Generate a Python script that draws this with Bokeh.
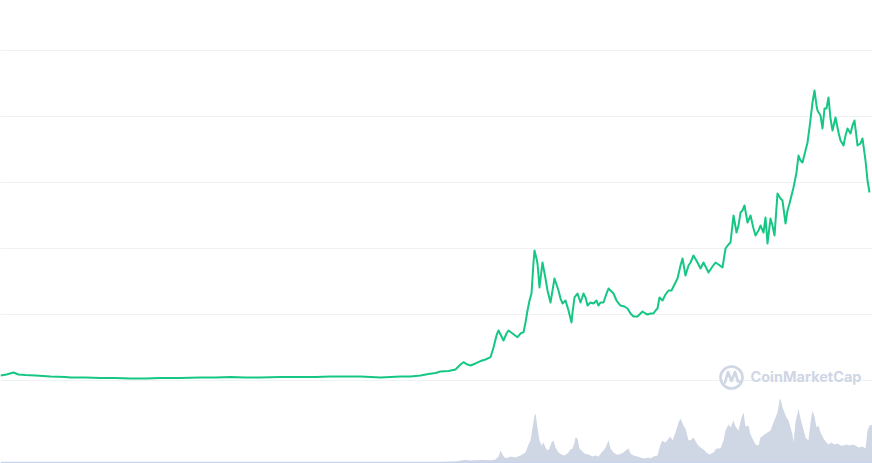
from bokeh.plotting import figure
from bokeh.models import Range1d, Label, Span, ColumnDataSource, Grid, FixedTicker
from bokeh.embed import file_html
from bokeh.resources import INLINE

# ---- price series (day index, price in thousands) ----
price_day = [0, 24, 52, 72, 100, 140, 200, 260, 280, 340, 400, 460, 520, 580, 640, 720, 800, 860, 920, 980,
             1040, 1120, 1200, 1260, 1320, 1380, 1440, 1480, 1520, 1560, 1600, 1640, 1680, 1712, 1740, 1760,
             1792, 1820, 1840, 1852, 1868, 1880, 1900, 1920, 1940, 1960, 1972, 1984, 1992, 2004, 2012, 2024,
             2032, 2048, 2068, 2080, 2092, 2100, 2108, 2116, 2124, 2132, 2136, 2144, 2148, 2156, 2164, 2168,
             2180, 2188, 2200, 2208, 2216, 2224, 2232, 2240, 2248, 2260, 2272, 2284, 2288, 2296, 2308, 2320,
             2332, 2340, 2348, 2360, 2372, 2384, 2392, 2400, 2412, 2424, 2432, 2440, 2452, 2464, 2480, 2496,
             2508, 2520, 2532, 2548, 2560, 2568, 2580, 2588, 2600, 2612, 2620, 2628, 2636, 2648, 2660, 2672,
             2684, 2696, 2708, 2720, 2728, 2740, 2752, 2760, 2772, 2788, 2800, 2812, 2824, 2832, 2848, 2860,
             2872, 2888, 2900, 2912, 2920, 2932, 2944, 2952, 2960, 2968, 2976, 2988, 3000, 3012, 3020, 3032,
             3040, 3052, 3060, 3068, 3080, 3088, 3096, 3108, 3120, 3128, 3140, 3148, 3156, 3164, 3172, 3184,
             3192, 3200, 3208, 3220, 3228, 3236, 3248, 3256, 3264, 3268, 3280, 3288, 3296, 3304, 3312, 3320,
             3328, 3340, 3352, 3360, 3372, 3380, 3388, 3400, 3408, 3416, 3428, 3440, 3448, 3460, 3468, 3476]
price_val = [0.76, 0.91, 1.21, 0.91, 0.83, 0.76, 0.61, 0.53, 0.45, 0.45, 0.38, 0.38, 0.30, 0.30, 0.38, 0.38,
             0.45, 0.45, 0.53, 0.45, 0.45, 0.53, 0.53, 0.53, 0.61, 0.61, 0.61, 0.53, 0.45, 0.53, 0.61, 0.61,
             0.76, 0.98, 1.14, 1.36, 1.44, 1.67, 2.42, 2.77, 2.42, 2.27, 2.58, 2.95, 3.18, 3.53, 5.00, 6.82,
             7.58, 6.67, 6.06, 7.12, 7.58, 7.12, 6.56, 7.12, 7.32, 8.79, 10.61, 12.12, 13.18, 17.88, 19.70,
             18.48, 17.73, 14.09, 16.67, 17.88, 15.45, 13.64, 11.82, 13.64, 15.45, 14.55, 13.64, 12.42, 11.67,
             12.12, 10.61, 8.79, 10.30, 12.58, 13.18, 11.82, 13.18, 12.58, 11.36, 11.82, 11.67, 12.12, 11.36,
             11.82, 11.82, 13.18, 13.94, 13.64, 13.18, 12.12, 11.36, 11.21, 10.91, 10.15, 9.70, 9.70, 10.15,
             10.45, 10.15, 10.00, 10.15, 10.15, 10.61, 10.91, 12.58, 12.12, 13.03, 13.64, 13.64, 14.55, 15.45,
             17.42, 18.48, 15.91, 17.42, 17.88, 18.94, 17.88, 16.97, 17.88, 16.97, 16.36, 17.27, 17.88, 17.58,
             17.12, 20.00, 20.61, 20.91, 25.00, 22.42, 23.48, 25.45, 25.76, 26.52, 23.94, 25.00, 23.03, 21.97,
             22.73, 23.48, 22.42, 24.70, 20.76, 24.55, 23.48, 21.97, 28.33, 27.58, 27.27, 23.79, 25.76, 26.82,
             28.03, 29.24, 31.52, 34.09, 33.33, 33.03, 34.85, 36.06, 38.33, 42.12, 43.94, 41.67, 40.91, 40.15,
             38.18, 41.21, 41.21, 42.88, 39.70, 37.88, 39.85, 37.58, 36.36, 35.61, 37.12, 38.18, 37.42, 38.64,
             39.39, 35.61, 35.91, 36.67, 33.33, 30.30, 28.48]

# ---- volume series (day index, volume in billions) ----
vol_day = [0, 400, 800, 1200, 1600, 1760, 1820, 1840, 1860, 1880, 1920, 1960, 1980, 1992, 2000, 2008, 2016,
           2028, 2040, 2060, 2080, 2100, 2112, 2120, 2128, 2136, 2140, 2148, 2156, 2164, 2172, 2180, 2188,
           2196, 2204, 2212, 2220, 2232, 2244, 2256, 2268, 2280, 2288, 2296, 2300, 2308, 2316, 2324, 2336,
           2352, 2368, 2380, 2392, 2404, 2412, 2420, 2432, 2440, 2452, 2464, 2476, 2492, 2500, 2512, 2520,
           2532, 2548, 2560, 2576, 2592, 2600, 2612, 2628, 2640, 2648, 2656, 2664, 2672, 2680, 2688, 2700,
           2712, 2720, 2732, 2740, 2752, 2764, 2772, 2788, 2800, 2812, 2824, 2836, 2852, 2864, 2880, 2892,
           2900, 2912, 2920, 2932, 2940, 2952, 2964, 2972, 2980, 2992, 3000, 3012, 3020, 3032, 3040, 3056,
           3068, 3080, 3092, 3100, 3108, 3116, 3120, 3128, 3136, 3144, 3152, 3160, 3168, 3172, 3180, 3192,
           3200, 3212, 3220, 3232, 3240, 3248, 3256, 3264, 3272, 3280, 3292, 3304, 3312, 3324, 3336, 3348,
           3360, 3372, 3384, 3396, 3408, 3420, 3432, 3448, 3460, 3468, 3476, 3488]
vol_val = [0.3, 0.3, 0.3, 0.4, 0.5, 0.6, 1.0, 2, 2.5, 2, 2.5, 2.2, 3, 6, 12, 8, 5, 4.5, 6, 5, 7, 10, 18, 22,
           35, 47, 49, 35, 22, 17, 20, 15, 12, 14, 20, 22, 15, 10, 8, 7, 9, 13, 14, 20, 25, 24, 14, 12, 9, 8,
           6, 7, 6, 10, 12, 15, 22, 14, 10, 8, 8, 10, 12, 14, 9, 7, 6, 5, 4, 5, 4, 6, 7, 18, 22, 20, 21, 24,
           26, 22, 30, 40, 44, 37, 34, 22, 23, 25, 18, 15, 13, 10, 8, 10, 14, 14, 22, 32, 38, 35, 42, 36, 32,
           45, 50, 36, 37, 28, 22, 18, 17, 25, 28, 30, 32, 40, 45, 50, 62, 64, 55, 50, 45, 42, 35, 28, 20, 40,
           54, 44, 33, 25, 22, 40, 52, 46, 35, 37, 30, 24, 20, 18, 20, 18, 19, 17, 17, 18, 17, 18, 17, 15, 16,
           14, 32, 37, 38]

grid_levels = [0, 10, 20, 30, 40, 50]

W, H = 872, 463
X_END = 3488
Y0, Y1 = -12.576, 57.576

p = figure(width=W, height=H, output_backend="svg", toolbar_location=None,
           x_range=Range1d(0, X_END), y_range=Range1d(Y0, Y1),
           x_axis_location=None, y_axis_location=None,
           min_border=0)
p.grid.visible = False
p.outline_line_color = None
p.background_fill_color = "white"
p.border_fill_color = "white"
p.extra_y_ranges = {"vol": Range1d(-1, 462)}

p.add_layout(Grid(dimension=1, ticker=FixedTicker(ticks=grid_levels),
                  grid_line_color="#eff2f5", grid_line_width=1))

vsrc = ColumnDataSource(dict(x=vol_day, y=vol_val, z=[0] * len(vol_val)))
p.varea(x="x", y1="z", y2="y", source=vsrc, fill_color="#cfd6e4", y_range_name="vol")
p.add_layout(Span(location=0, dimension="width", y_range_name="vol",
                  line_color="#c8d3ec", line_width=1.5))

psrc = ColumnDataSource(dict(x=price_day, y=price_val))
p.line(x="x", y="y", source=psrc, line_color="#16c784", line_width=2.0, line_join="round")


# ---- watermark (decoration, placed in screen pixels) ----
def dx(px):
    return px / W * X_END


def dy(py):
    return Y1 - py / H * (Y1 - Y0)


p.scatter(x=[dx(731)], y=[dy(377)], size=22, marker="circle", fill_color=None,
          line_color="#cfd6e4", line_width=2.6)
p.line(x=[dx(724.5), dx(727.5), dx(731), dx(734.5), dx(737.5), dx(741)],
       y=[dy(382), dy(371.5), dy(380.5), dy(371.5), dy(381), dy(381)],
       line_color="#cfd6e4", line_width=2.6, line_join="round", line_cap="round")
p.add_layout(Label(x=750, y=H - 384, x_units="screen", y_units="screen",
                   text="CoinMarketCap", text_font="Inter", text_font_size="14.5px",
                   text_font_style="bold", text_color="#cfd6e4"))

open("out.html", "w").write(file_html(p, INLINE))
